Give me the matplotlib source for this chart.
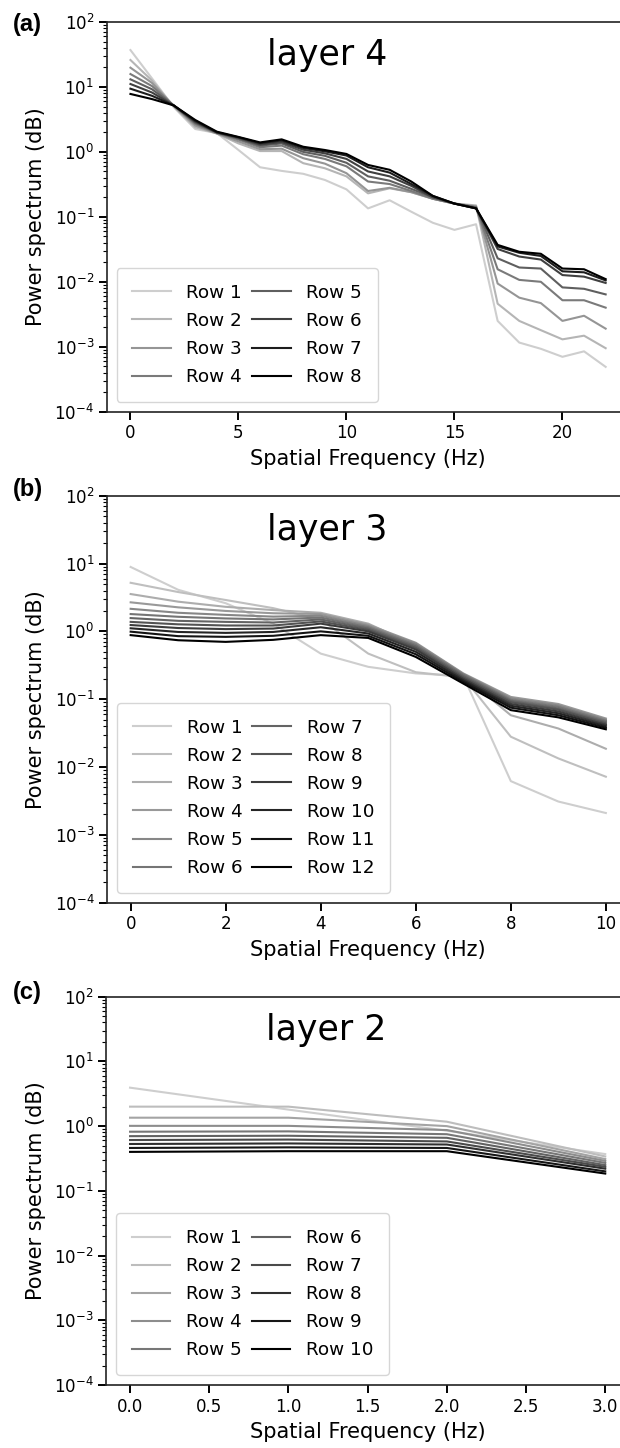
import numpy as np
import matplotlib
matplotlib.use("Agg")
import matplotlib.pyplot as plt

# ---------------- data ----------------
freq_a = list(range(23))
rows_a = [
    [37, 13.5, 4.9, 2.25, 1.95, 1.07, 0.58, 0.51, 0.46, 0.37, 0.265, 0.135, 0.18, 0.12, 0.081, 0.063, 0.077, 0.0025, 0.00116, 0.00093, 0.0007, 0.00085, 0.00049],
    [26, 12.5, 5.0, 2.4, 1.92, 1.35, 1.03, 1.03, 0.67, 0.56, 0.42, 0.23, 0.275, 0.24, 0.19, 0.16, 0.15, 0.0046, 0.0025, 0.0018, 0.0013, 0.00148, 0.00095],
    [19.8, 11.5, 5.1, 2.55, 1.92, 1.45, 1.1, 1.12, 0.8, 0.66, 0.47, 0.25, 0.28, 0.24, 0.19, 0.16, 0.145, 0.0094, 0.0057, 0.0047, 0.0025, 0.003, 0.0019],
    [15.8, 10.3, 5.2, 2.7, 1.95, 1.55, 1.18, 1.25, 0.92, 0.78, 0.6, 0.35, 0.32, 0.25, 0.19, 0.16, 0.14, 0.0156, 0.0107, 0.01, 0.0052, 0.0052, 0.004],
    [13.1, 9.2, 5.2, 2.8, 1.98, 1.6, 1.25, 1.35, 1.0, 0.87, 0.68, 0.42, 0.36, 0.27, 0.2, 0.16, 0.14, 0.023, 0.0166, 0.016, 0.0082, 0.0078, 0.0064],
    [11.1, 8.2, 5.2, 2.9, 2.0, 1.65, 1.3, 1.42, 1.08, 0.95, 0.78, 0.5, 0.42, 0.3, 0.2, 0.16, 0.135, 0.032, 0.0245, 0.022, 0.0127, 0.012, 0.0096],
    [9.4, 7.3, 5.2, 3.0, 2.0, 1.68, 1.36, 1.5, 1.15, 1.02, 0.88, 0.58, 0.48, 0.32, 0.21, 0.16, 0.135, 0.035, 0.028, 0.025, 0.0145, 0.014, 0.0105],
    [7.8, 6.5, 5.2, 3.1, 2.05, 1.7, 1.4, 1.56, 1.2, 1.07, 0.93, 0.63, 0.53, 0.35, 0.21, 0.16, 0.135, 0.037, 0.029, 0.027, 0.016, 0.0156, 0.011],
]

freq_b = list(range(11))
rows_b = [
    [8.9, 4.1, 2.6, 1.3, 0.47, 0.30, 0.24, 0.22, 0.0062, 0.0031, 0.0021],
    [5.2, 3.8, 2.9, 2.2, 1.5, 0.47, 0.25, 0.21, 0.028, 0.0134, 0.0072],
    [3.55, 2.74, 2.3, 2.06, 1.88, 1.3, 0.62, 0.22, 0.058, 0.037, 0.0186],
    [2.68, 2.26, 2.0, 1.85, 1.8, 1.25, 0.68, 0.24, 0.108, 0.085, 0.052],
    [2.15, 1.88, 1.75, 1.65, 1.7, 1.2, 0.66, 0.235, 0.103, 0.081, 0.050],
    [1.8, 1.64, 1.55, 1.5, 1.6, 1.15, 0.63, 0.23, 0.098, 0.077, 0.048],
    [1.57, 1.43, 1.38, 1.35, 1.5, 1.1, 0.60, 0.22, 0.094, 0.073, 0.046],
    [1.38, 1.27, 1.22, 1.22, 1.4, 1.05, 0.57, 0.21, 0.09, 0.07, 0.044],
    [1.24, 1.12, 1.08, 1.1, 1.3, 1.0, 0.54, 0.20, 0.085, 0.066, 0.042],
    [1.11, 0.98, 0.95, 0.98, 1.15, 0.93, 0.5, 0.19, 0.08, 0.062, 0.040],
    [0.99, 0.85, 0.83, 0.86, 1.0, 0.86, 0.46, 0.18, 0.075, 0.058, 0.038],
    [0.88, 0.74, 0.70, 0.75, 0.88, 0.8, 0.42, 0.17, 0.069, 0.054, 0.036],
]

freq_c = [0, 1, 2, 3]
rows_c = [
    [3.93, 1.8, 0.85, 0.37],
    [2.0, 2.0, 1.17, 0.34],
    [1.35, 1.35, 1.0, 0.31],
    [1.01, 1.01, 0.87, 0.29],
    [0.82, 0.83, 0.75, 0.27],
    [0.70, 0.71, 0.66, 0.25],
    [0.61, 0.62, 0.58, 0.235],
    [0.53, 0.54, 0.52, 0.22],
    [0.46, 0.47, 0.46, 0.20],
    [0.40, 0.41, 0.41, 0.185],
]

titles = ["layer 4", "layer 3", "layer 2"]
panel_labels = ["(a)", "(b)", "(c)"]
xlabel = "Spatial Frequency (Hz)"
ylabel = "Power spectrum (dB)"
xticks_list = [[0, 5, 10, 15, 20], [0, 2, 4, 6, 8, 10],
               [0.0, 0.5, 1.0, 1.5, 2.0, 2.5, 3.0]]
xtick_labels = [["0", "5", "10", "15", "20"],
                ["0", "2", "4", "6", "8", "10"],
                ["0.0", "0.5", "1.0", "1.5", "2.0", "2.5", "3.0"]]

# ---------------- figure ----------------
W, H = 620, 1448
fig = plt.figure(figsize=(W / 100, H / 100), dpi=100)
plt.rcParams['font.family'] = ['DejaVu Sans']

# axes boxes in pixels: (left, top, bottom)
boxes = [(106.7, 22.0, 411.7), (106.9, 495.7, 902.7), (106.3, 996.7, 1385.0)]
axw = 522.7
datasets = [(freq_a, rows_a), (freq_b, rows_b), (freq_c, rows_c)]
label_y = [25, 489, 992]

for i, ((l, t, b), (fx, rows)) in enumerate(zip(boxes, datasets)):
    ax = fig.add_axes([l / W, 1 - b / H, axw / W, (b - t) / H])
    n = len(rows)
    cols = plt.cm.Greys(np.linspace(0.3, 1.0, n))
    for k, r in enumerate(rows):
        ax.plot(fx, r, color=cols[k], lw=1.5, label=f"Row {k + 1}")
    ax.set_yscale('log')
    ax.set_ylim(1e-4, 1e2)
    ax.set_yticks([1e-4, 1e-3, 1e-2, 1e-1, 1e0, 1e1, 1e2])
    ax.set_xticks(xticks_list[i])
    ax.set_xticklabels(xtick_labels[i])
    ax.set_xlim(fx[0] - 0.05 * (fx[-1] - fx[0]), fx[-1] + 0.05 * (fx[-1] - fx[0]))
    ax.spines['right'].set_visible(False)
    for s in ['left', 'bottom', 'top']:
        ax.spines[s].set_linewidth(1.2)
        ax.spines[s].set_color('#222222')
    ax.tick_params(axis='both', which='major', labelsize=12, length=6,
                   width=1.4, pad=3, direction='out')
    ax.tick_params(axis='y', which='minor', length=3, width=0.8)
    ax.set_xlabel(xlabel, fontsize=15, labelpad=5)
    ax.set_ylabel(ylabel, fontsize=15, labelpad=6)
    ax.text(0.421, 0.915, titles[i], transform=ax.transAxes, fontsize=25,
            ha='center', va='center')
    leg = ax.legend(loc='lower left', ncol=2, fontsize=13.2, labelspacing=0.55,
                    columnspacing=0.55, handletextpad=0.85, handlelength=2.1,
                    borderpad=0.85, borderaxespad=0.55, frameon=True, fancybox=True)
    leg.get_frame().set_edgecolor('0.8')
    fig.text(13 / W, 1 - label_y[i] / H, panel_labels[i], fontsize=17,
             fontweight='bold', family='Liberation Sans', ha='left', va='center')

fig.savefig('out.png', dpi=100)
